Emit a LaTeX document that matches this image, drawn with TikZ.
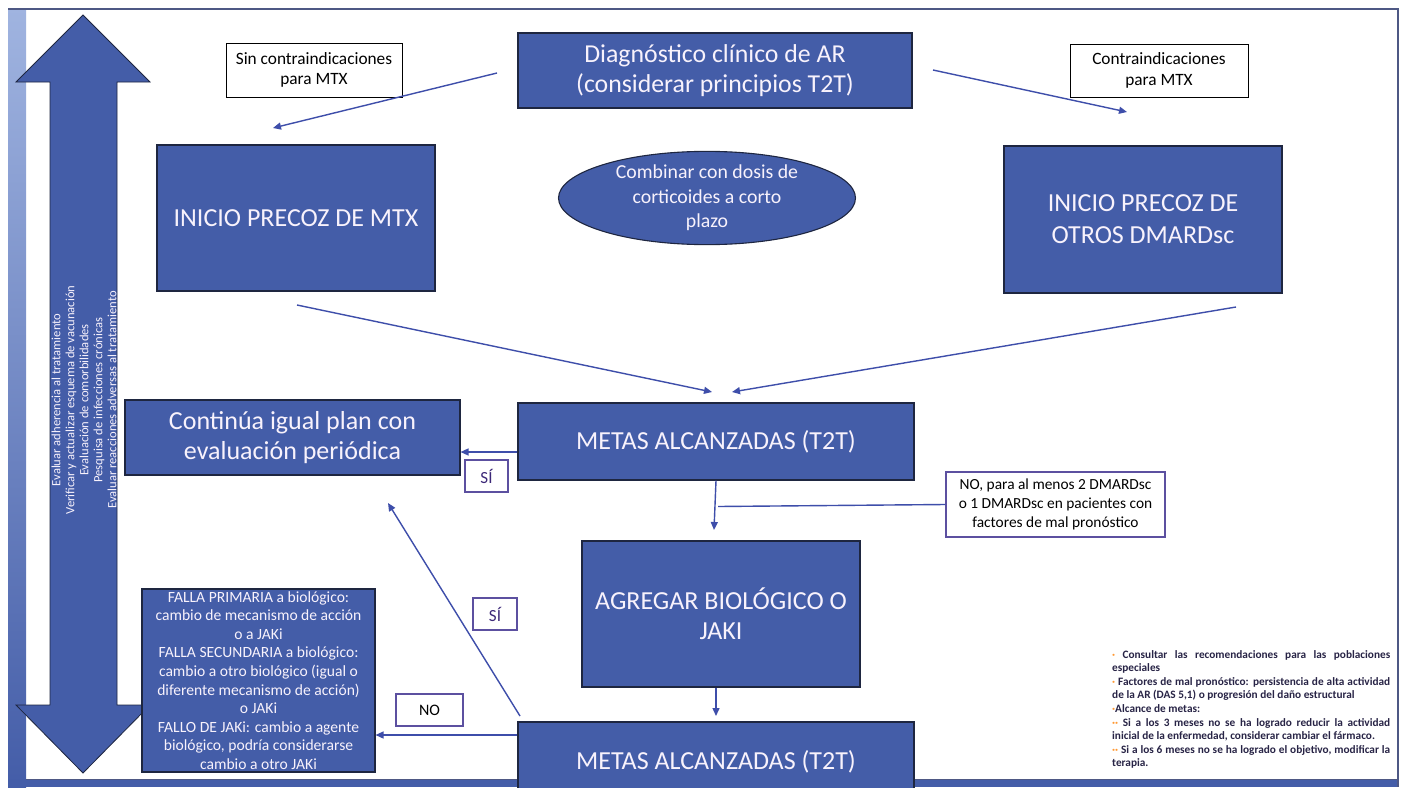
\documentclass[tikz,border=0pt]{standalone}
\usepackage{fontspec}
\setmainfont{Carlito}
\usetikzlibrary{arrows.meta,shapes.geometric,calc}
\definecolor{boxblue}{RGB}{68,93,168}
\definecolor{edgeblue}{RGB}{62,78,170}
\definecolor{darkline}{RGB}{30,38,64}
\definecolor{labelborder}{RGB}{92,80,160}
\definecolor{framestrip}{RGB}{160,180,224}
\definecolor{framedark}{RGB}{78,88,132}
\definecolor{sitext}{RGB}{60,40,120}
\definecolor{notetext}{RGB}{40,36,70}
\definecolor{boxtext}{RGB}{248,242,252}
\tikzset{
  bluebox/.style={draw=darkline, line width=1.1pt, fill=boxblue, text=boxtext, align=center, inner sep=0pt},
  labelbox/.style={draw=black, line width=1pt, fill=white, text=black, align=center, inner sep=0pt},
  tagbox/.style={draw=labelborder, line width=1.4pt, fill=white, align=center, inner sep=0pt},
  conn/.style={draw=edgeblue, line width=1.4pt, -{Triangle[length=8pt,width=7pt]}},
  plainconn/.style={draw=edgeblue, line width=1.4pt},
}
\begin{document}
\begin{tikzpicture}[x=1pt,y=-1pt]
\clip (0,0) rectangle (1402,787);
\fill[white] (0,0) rectangle (1402,787);
% slide frame
\shade[top color=framestrip, bottom color=boxblue] (8,8) rectangle (26,787);
\fill[boxblue] (8,779) rectangle (1398,787);
\draw[framedark, line width=1.5pt] (8,9) -- (1398,9) -- (1398,787);
\draw[framedark, line width=0.8pt] (26,779) -- (1398,779);

% big double arrow
\draw[darkline, line width=0.8pt, fill=boxblue]
  (83,15) -- (150,82) -- (117,82) -- (117,705) -- (150,705) -- (83,773)
  -- (16,705) -- (50,705) -- (50,82) -- (16,82) -- cycle;
\node[rotate=90, text=boxtext, align=center, font=\fontsize{12.6}{14}\selectfont] (sidetext) at (84,400)
  {Evaluar adherencia al tratamiento\\
   Verificar y actualizar esquema de vacunación\\
   Evaluación de comorbilidades\\
   Pesquisa de infecciones crónicas\\
   Evaluar reacciones adversas al tratamiento};

% boxes
\node[bluebox, minimum width=394pt, minimum height=75pt, font=\fontsize{25.8}{30}\selectfont] (diag) at (715,70.5)
  {Diagnóstico clínico de AR\\(considerar principios T2T)};
\node[labelbox, minimum width=176pt, minimum height=54pt, font=\fontsize{17.3}{20.5}\selectfont] (sin) at (314,70)
  {Sin contraindicaciones\\para MTX};
\node[labelbox, minimum width=178pt, minimum height=53pt, font=\fontsize{17.3}{20.5}\selectfont] (contra) at (1159,70.5)
  {Contraindicaciones\\para MTX};
\node[bluebox, minimum width=278pt, minimum height=146pt, font=\fontsize{26}{32}\selectfont] (mtx) at (296,218)
  {INICIO PRECOZ DE MTX};
\node[ellipse, draw=darkline, line width=1.1pt, fill=boxblue, text=boxtext, align=center, inner sep=0pt,
  minimum width=297pt, minimum height=92pt, font=\fontsize{19.8}{24.5}\selectfont] (cortic) at (707,198)
  {Combinar con dosis de\\corticoides a corto\\plazo};
\node[bluebox, minimum width=278pt, minimum height=147pt, font=\fontsize{26}{32}\selectfont] (otros) at (1143,219.5)
  {INICIO PRECOZ DE\\OTROS DMARDsc};
\node[bluebox, minimum width=335pt, minimum height=75pt, font=\fontsize{26}{30}\selectfont] (cont) at (292.5,437.5)
  {Continúa igual plan con\\evaluación periódica};
\node[bluebox, minimum width=396pt, minimum height=77pt, font=\fontsize{26}{30}\selectfont] (metasa) at (716,441.5)
  {METAS ALCANZADAS (T2T)};
\node[tagbox, minimum width=43pt, minimum height=32pt, text=sitext, font=\fontsize{17}{18}\selectfont] (sia) at (486.5,476) {SÍ};
\node[tagbox, minimum width=219pt, minimum height=65pt, text=black, font=\fontsize{15.4}{19}\selectfont] (nobox) at (1055.5,504.5)
  {NO, para al menos 2 DMARDsc\\o 1 DMARDsc en pacientes con\\factores de mal pronóstico};
\node[bluebox, minimum width=278pt, minimum height=146pt, font=\fontsize{26}{30}\selectfont] (agregar) at (721,614)
  {AGREGAR BIOLÓGICO O\\JAKI};
\node[tagbox, minimum width=44pt, minimum height=32pt, text=sitext, font=\fontsize{17}{18}\selectfont] (sib) at (495,614) {SÍ};
\node[bluebox, minimum width=233pt, minimum height=183pt, font=\fontsize{15.6}{18.6}\selectfont] (falla) at (258.5,680.5)
  {FALLA PRIMARIA a biológico:\\cambio de mecanismo de acción\\o a JAKi\\FALLA SECUNDARIA a biológico:\\cambio a otro biológico (igual o\\diferente mecanismo de acción)\\o JAKi\\FALLO DE JAKi: cambio a agente\\biológico, podría considerarse\\cambio a otro JAKi};
\node[tagbox, minimum width=67pt, minimum height=32pt, text=black, font=\fontsize{16}{18}\selectfont] (nob) at (429.5,710) {NO};
\node[bluebox, minimum width=396pt, minimum height=80pt, font=\fontsize{26}{30}\selectfont] (metasb) at (716,762)
  {METAS ALCANZADAS (T2T)};

% notes
\node[anchor=north west, text width=278pt, align=justify, inner sep=0pt, text=notetext,
  font=\bfseries\fontsize{11.3}{13.6}\selectfont] (notes) at (1112,650)
  {\hyphenpenalty=10000\relax\tolerance=9999\relax
   {\color{orange!80}·} Consultar las recomendaciones para las poblaciones\linebreak especiales\\
   {\color{orange!80}·} Factores de mal pronóstico: persistencia de alta actividad\linebreak de la AR (DAS 5,1) o progresión del daño estructural\\
   {\color{orange!80}·}Alcance de metas:\\
   {\color{orange!80}··} Si a los 3 meses no se ha logrado reducir la actividad\linebreak inicial de la enfermedad, considerar cambiar el fármaco.\\
   {\color{orange!80}··} Si a los 6 meses no se ha logrado el objetivo, modificar la\linebreak terapia.};

% connectors
\coordinate (c1s) at (497,73);   \coordinate (c1e) at (273,128);
\coordinate (c2s) at (933,70);   \coordinate (c2e) at (1127,112);
\coordinate (c3s) at (297,305);  \coordinate (c3e) at (712,392);
\coordinate (c4s) at (1236,307); \coordinate (c4e) at (732,392);
\coordinate (c6e) at (714,530);
\coordinate (c8s) at (520,716);  \coordinate (c8e) at (388,503);
\coordinate (c9s) at (716,688);  \coordinate (c9e) at (716,716);
\draw[conn] (c1s) -- (c1e);
\draw[conn] (c2s) -- (c2e);
\draw[conn] (c3s) -- (c3e);
\draw[conn] (c4s) -- (c4e);
\path ($(metasa.west)+(0,10.5)$) coordinate (m1w);
\draw[conn] (m1w) -- (cont.east |- m1w);
\draw[conn] (metasa.south) -- (c6e);
\draw[plainconn] (nobox.west) -- ($(nobox.west -| metasa.south)+(2,2)$);
\draw[conn] (c8s) -- (c8e);
\draw[conn] (c9s) -- (c9e);
\path ($(metasb.west)+(0,-27)$) coordinate (m2w);
\draw[conn] (m2w) -- (falla.east |- m2w);
\end{tikzpicture}
\end{document}
